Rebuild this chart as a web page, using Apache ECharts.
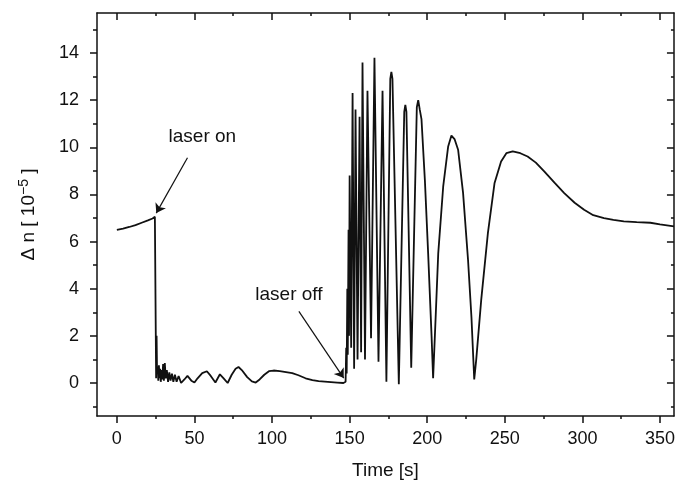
<!DOCTYPE html>
<html>
<head>
<meta charset="utf-8">
<title>laser on / off</title>
<script src="https://cdn.jsdelivr.net/npm/echarts@6.0.0/dist/echarts.min.js"></script>
<style>
	html, body { margin: 0; padding: 0; background: #fff; }
	#chart { width: 678px; height: 487px; }
</style>
</head>
<body>
<div id="chart"></div>
<script>
// time [s] and delta n [1e-5]
var timeValues = [
	0, 4, 8, 12, 16, 20, 23, 24.5, 25.0,
	25.3, 25.6, 25.9, 26.3, 26.7, 27.1, 27.5, 27.9, 28.3, 28.8, 29.3, 29.8, 30.3, 30.9, 31.5,
	32.2, 33.0, 33.8, 34.6, 35.5, 36.4, 37.4, 38.5, 39.8, 41.4, 43.5, 45.5, 48, 50, 52, 55,
	58, 60.5, 63.5, 66.4, 68.8, 71.4, 74, 76.5, 78.4, 80.5, 84, 87, 89.5, 92, 95, 98, 101,
	105, 109, 113, 117, 121.6, 126, 130, 134, 138, 142, 146,
	147.4, 147.8, 148.1, 148.5, 148.8, 149.3, 149.6, 150.0, 151.0, 151.9, 152.9, 153.8,
	155.1, 156.4, 157.4, 158.3, 159.9, 161.5, 163.8, 166.0, 168.6, 171.2, 173.7, 176.2, 176.9,
	177.6, 181.7, 185.2, 185.9, 186.6, 189.7, 193.3, 194.2, 195.2, 196.3, 198.5, 200.6, 202.8,
	203.8, 205.5, 207.1, 210.3, 213.5, 215.6, 217.6, 219.9, 223.1, 226.3, 228.5, 230.3,
	231.6, 234.8, 239.1, 243.4, 247.6, 251, 255.1, 260, 264.7, 270, 275.4, 282, 288.3, 295,
	301.1, 307, 313.9, 320, 326.7, 335, 343.8, 350, 359
];
var deltaN = [
	6.50, 6.55, 6.62, 6.70, 6.80, 6.90, 6.98, 7.05, 7.02,
	0.2, 2.0, 0.4, 0.7, 0.1, 0.75, 0.2, 0.6, 0.05, 0.55, 0.15, 0.8, 0.1, 0.85, 0.2,
	0.55, 0.05, 0.45, 0.1, 0.4, 0.05, 0.35, 0.05, 0.3, 0.0, 0.15, 0.3, 0.1, 0.02, 0.2, 0.42,
	0.5, 0.3, 0.02, 0.37, 0.2, 0.0, 0.35, 0.6, 0.68, 0.55, 0.25, 0.07, 0.02, 0.15, 0.35, 0.5, 0.53,
	0.5, 0.46, 0.42, 0.33, 0.2, 0.12, 0.08, 0.06, 0.04, 0.02, 0.0,
	0.05, 1.5, 0.4, 4.0, 1.2, 6.5, 2.0, 8.8, 1.5, 12.3, 0.6, 11.6,
	1.0, 11.3, 1.3, 13.6, 1.0, 12.4, 1.9, 13.8, 0.9, 12.4, 0.05, 12.9, 13.2,
	12.9, -0.05, 11.5, 11.8, 11.5, 0.65, 11.7, 12.0, 11.6, 11.2, 8.6, 5.5, 2.0,
	0.2, 2.9, 5.5, 8.34, 10.04, 10.5, 10.35, 9.9, 8.07, 5.23, 2.8, 0.15,
	1.0, 3.53, 6.36, 8.49, 9.4, 9.75, 9.83, 9.75, 9.61, 9.35, 8.98, 8.5, 8.06, 7.65,
	7.35, 7.12, 7.0, 6.92, 6.86, 6.83, 6.8, 6.73, 6.65
];

var xMajor = [0, 50, 100, 150, 200, 250, 300, 350];
var xMinor = [25, 75, 125, 175, 225, 275, 325];
var yMajor = [0, 2, 4, 6, 8, 10, 12, 14];
var yMinor = [-1, 1, 3, 5, 7, 9, 11, 13, 15];

var notes = ['laser on', 'laser off'];

var chart = echarts.init(document.getElementById('chart'));

var xMin = -12.8, xMax = 359, yMin = -1.4, yMax = 15.7;
var ink = '#111';
var fontName = 'Liberation Sans';

function tickAxis(kind, pos, values, len, inside, isMain) {
	var ax = {
		type: 'value',
		position: pos,
		min: kind == 'x' ? xMin : yMin,
		max: kind == 'x' ? xMax : yMax,
		axisLine: { show: isMain, onZero: false, lineStyle: { color: ink, width: 1.5 } },
		axisTick: { show: true, inside: inside, length: len, customValues: values,
			lineStyle: { color: ink, width: 1.5 } },
		axisLabel: { show: false },
		splitLine: { show: false }
	};
	return ax;
}

var xBottom = tickAxis('x', 'bottom', xMajor, 7, false, true);
xBottom.axisLabel = {
	show: true, customValues: xMajor, margin: 14,
	color: ink, fontFamily: fontName, fontSize: 18
};
xBottom.name = 'Time [s]';
xBottom.nameLocation = 'middle';
xBottom.nameGap = 45;
xBottom.nameTextStyle = { color: ink, fontFamily: fontName, fontSize: 19 };

var yLeft = tickAxis('y', 'left', yMajor, 7, false, true);
yLeft.axisLabel = {
	show: true, customValues: yMajor, margin: 18,
	color: ink, fontFamily: fontName, fontSize: 18
};
yLeft.name = '\u0394 n [ 10{sup|\u22125} ]';
yLeft.nameLocation = 'middle';
yLeft.nameGap = 56;
yLeft.nameTextStyle = {
	color: ink, fontFamily: fontName, fontSize: 19,
	rich: {
		sup: { fontSize: 14, fontFamily: fontName, color: ink, padding: [0, 0, 10, 0], verticalAlign: 'bottom' }
	}
};

var option = {
	backgroundColor: '#fff',
	animation: false,
	grid: { left: 97, right: 1, top: 13, bottom: 71, containLabel: false },
	xAxis: [
		xBottom,
		tickAxis('x', 'bottom', xMinor, 3, false, false),
		tickAxis('x', 'top', xMajor, 7, true, true),
		tickAxis('x', 'top', xMinor, 3, true, false)
	],
	yAxis: [
		yLeft,
		tickAxis('y', 'left', yMinor, 4, false, false),
		tickAxis('y', 'right', yMajor, 7, true, true),
		tickAxis('y', 'right', yMinor, 3, true, false)
	],
	series: [
		{
			type: 'line',
			xAxisIndex: 0,
			yAxisIndex: 0,
			data: timeValues.map(function (t, i) { return [t, deltaN[i]]; }),
			symbol: 'none',
			smooth: false,
			lineStyle: { color: ink, width: 1.8 },
			markLine: {
				silent: true,
				symbol: ['none', 'arrow'],
				symbolSize: 9,
				label: { show: false },
				lineStyle: { color: ink, width: 1.2, type: 'solid' },
				data: [
					[{ coord: [45.5, 9.56] }, { coord: [25.4, 7.21] }],
					[{ coord: [117.3, 3.04] }, { coord: [146.2, 0.21] }]
				]
			},
			markPoint: {
				silent: true,
				symbol: 'circle',
				symbolSize: 0,
				label: {
					show: true, position: 'inside', formatter: '{b}',
					color: ink, fontFamily: fontName, fontSize: 19
				},
				data: [
					{ name: notes[0], coord: [55.1, 10.45] },
					{ name: notes[1], coord: [110.9, 3.75] }
				]
			}
		}
	]
};

chart.setOption(option);
</script>
</body>
</html>
